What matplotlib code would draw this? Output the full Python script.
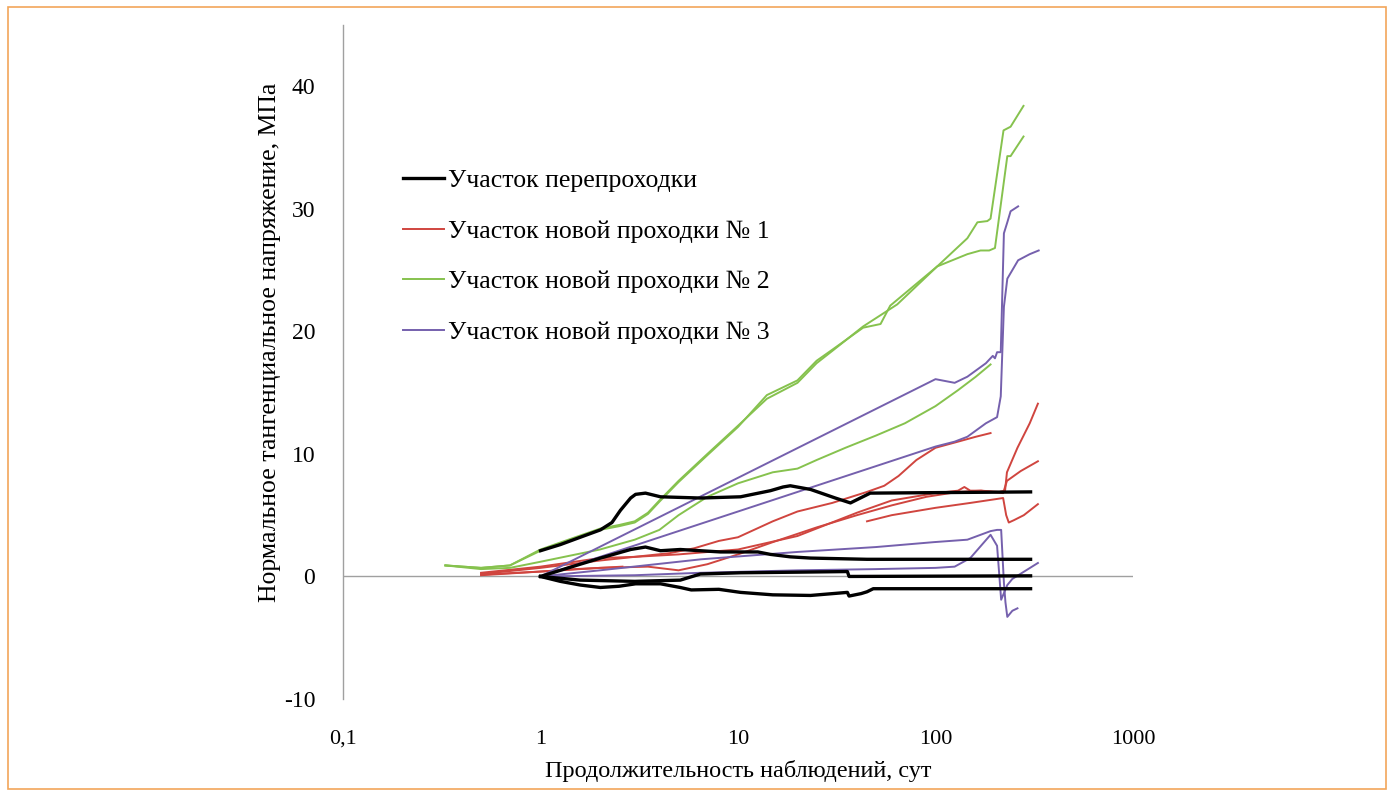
import matplotlib
matplotlib.use("Agg")
import matplotlib.pyplot as plt
from matplotlib.patches import Rectangle
from matplotlib.ticker import FixedLocator, FixedFormatter, NullLocator

plt.rcParams['font.family'] = ['Liberation Serif', 'DejaVu Serif']
plt.rcParams['axes.unicode_minus'] = False

# ---------------- data (days, MPa) ----------------
black1_x = [1, 1.26, 1.59, 2.01, 2.3, 2.54, 2.86, 3.03, 3.4, 4.05, 6.45, 10.3, 14.6, 16.9, 18.4, 23.3, 31.1, 37.1, 46.7, 303]
black1_y = [2.1, 2.6, 3.2, 3.8, 4.4, 5.4, 6.4, 6.7, 6.8, 6.5, 6.4, 6.5, 7.0, 7.3, 7.4, 7.1, 6.4, 6.0, 6.8, 6.9]
black2_x = [1, 1.26, 1.59, 2.01, 2.86, 3.4, 4.05, 5.1, 8.15, 12.6, 14.6, 18.4, 23.3, 45, 303]
black2_y = [0, 0.5, 1.0, 1.5, 2.2, 2.4, 2.1, 2.2, 2.0, 2.0, 1.8, 1.6, 1.5, 1.4, 1.4]
black3_x = [1, 1.59, 3.0, 5.1, 6.45, 10.3, 20, 35.8, 36.5, 303]
black3_y = [0, -0.3, -0.4, -0.3, 0.2, 0.3, 0.35, 0.4, 0.0, 0.05]
black4_x = [1, 1.26, 1.59, 2.01, 2.5, 3.03, 4.05, 5.1, 5.8, 8.0, 10.3, 15, 23.3, 35.8, 36.5, 42, 45, 48.4, 303]
black4_y = [0, -0.4, -0.7, -0.9, -0.8, -0.6, -0.6, -0.9, -1.1, -1.05, -1.3, -1.5, -1.55, -1.3, -1.6, -1.4, -1.25, -1.0, -1.0]

red1_x = [0.5, 1, 2, 3, 4.5, 6, 8, 10, 15, 20, 30, 45, 55, 65, 80, 100, 130, 160, 190]
red1_y = [0.2, 0.7, 1.3, 1.6, 1.9, 2.3, 2.9, 3.2, 4.5, 5.3, 6.0, 6.9, 7.4, 8.2, 9.5, 10.5, 11.0, 11.4, 11.7]
red2_x = [0.5, 1, 2, 3.5, 5, 7, 10, 15, 25, 40, 60, 90, 130, 170, 210, 225, 230, 260, 300, 330]
red2_y = [0.1, 0.4, 0.7, 0.8, 0.5, 1.0, 1.8, 2.8, 4.0, 5.0, 5.8, 6.5, 6.9, 7.0, 6.9, 7.0, 8.5, 10.5, 12.5, 14.1]
red3_x = [0.5, 1, 2, 3, 5, 10, 20, 40, 60, 100, 130, 140, 150, 170, 220, 230, 270, 330]
red3_y = [0.3, 0.8, 1.5, 1.6, 1.8, 2.2, 3.3, 5.2, 6.2, 6.8, 7.0, 7.3, 7.0, 7.0, 6.8, 7.8, 8.6, 9.4]
red4_x = [45, 60, 100, 150, 200, 220, 228, 235, 250, 280, 330]
red4_y = [4.5, 5.0, 5.6, 6.0, 6.3, 6.4, 5.0, 4.4, 4.6, 5.0, 5.9]
red5_x = [0.5, 1, 1.5, 2, 2.6]
red5_y = [0.15, 0.4, 0.6, 0.7, 0.8]

green1_x = [0.33, 0.5, 0.7, 1, 1.5, 2, 2.5, 3, 3.5, 4, 5, 7, 10, 14, 20, 25, 30, 43, 64, 102, 145, 163, 183, 190, 221, 240, 279]
green1_y = [0.9, 0.7, 0.9, 2.2, 3.2, 3.9, 4.2, 4.5, 5.2, 6.2, 7.8, 10.0, 12.3, 14.5, 15.8, 17.4, 18.4, 20.4, 22.2, 25.3, 27.6, 28.9, 29.0, 29.2, 36.4, 36.7, 38.4]
green2_x = [0.33, 0.5, 0.7, 1, 1.5, 2, 2.5, 3, 3.5, 4, 5, 7, 10, 14, 20, 25, 30, 43, 52.7, 59, 102, 145, 169, 187, 200, 231, 240, 279]
green2_y = [0.9, 0.7, 0.9, 2.1, 3.1, 3.8, 4.1, 4.4, 5.1, 6.1, 7.7, 9.9, 12.2, 14.8, 16.0, 17.6, 18.5, 20.3, 20.6, 22.1, 25.3, 26.3, 26.6, 26.6, 26.8, 34.3, 34.3, 35.9]
green3_x = [0.33, 0.5, 0.7, 1, 2, 3, 4, 5, 7, 10, 15, 20, 25, 35, 50, 70, 100, 130, 160, 190]
green3_y = [0.9, 0.6, 0.7, 1.2, 2.2, 3.0, 3.8, 5.0, 6.5, 7.6, 8.5, 8.8, 9.5, 10.5, 11.5, 12.5, 13.9, 15.2, 16.3, 17.3]

purple1_x = [1, 100, 125, 145, 180, 195, 200, 205, 214, 222, 231, 240, 262]
purple1_y = [0, 16.1, 15.8, 16.3, 17.4, 18.0, 17.8, 18.3, 18.3, 28.0, 28.9, 29.8, 30.2]
purple2_x = [1, 100, 125, 145, 180, 205, 214, 222, 231, 245, 262, 300, 333]
purple2_y = [0, 10.6, 11.0, 11.4, 12.5, 13.0, 14.7, 22.0, 24.3, 25.0, 25.8, 26.3, 26.6]
purple3_x = [1, 2, 6.5, 20, 50, 98, 145, 190, 205, 215, 222, 226, 231, 245, 260]
purple3_y = [0, 0.5, 1.4, 2.0, 2.4, 2.8, 3.0, 3.7, 3.8, 3.8, -0.5, -2.1, -3.3, -2.8, -2.6]
purple4_x = [1, 3, 6.5, 20, 50, 100, 125, 150, 190, 205, 215, 231, 245, 330]
purple4_y = [0, 0.1, 0.3, 0.5, 0.6, 0.7, 0.8, 1.5, 3.4, 2.5, -1.9, -0.7, -0.2, 1.1]

labels = ['Участок перепроходки', 'Участок новой проходки № 1',
          'Участок новой проходки № 2', 'Участок новой проходки № 3']
x_ticks = [0.1, 1, 10, 100, 1000]
x_tick_labels = ['0,1', '1', '10', '100', '1000']
y_ticks = [-10, 0, 10, 20, 30, 40]

BLACK = 'black'
RED = '#d0453f'
GREEN = '#86c24e'
PURPLE = '#7560ad'
LW_THIN = 1.4
LW_THICK = 2.4

fig = plt.figure(figsize=(13.94, 7.95), dpi=100)
ax = fig.add_axes([343 / 1394, 1 - 699 / 795, (1133 - 343) / 1394, (699 - 25) / 795])

ax.axhline(0, color='#a0a0a0', lw=1.0, zorder=1)

for xs, ys in [(red1_x, red1_y), (red2_x, red2_y), (red3_x, red3_y), (red4_x, red4_y), (red5_x, red5_y)]:
    ax.plot(xs, ys, color=RED, lw=LW_THIN, zorder=3)
for xs, ys in [(green1_x, green1_y), (green2_x, green2_y), (green3_x, green3_y)]:
    ax.plot(xs, ys, color=GREEN, lw=LW_THIN, zorder=3)
for xs, ys in [(purple1_x, purple1_y), (purple2_x, purple2_y), (purple3_x, purple3_y), (purple4_x, purple4_y)]:
    ax.plot(xs, ys, color=PURPLE, lw=LW_THIN, zorder=3)
for xs, ys in [(black1_x, black1_y), (black2_x, black2_y), (black3_x, black3_y), (black4_x, black4_y)]:
    ax.plot(xs, ys, color=BLACK, lw=LW_THICK, zorder=4)

ax.set_xscale('log')
ax.set_xlim(0.1, 1000)
ax.set_ylim(-10, 45)
ax.xaxis.set_major_locator(FixedLocator(x_ticks))
ax.xaxis.set_major_formatter(FixedFormatter(x_tick_labels))
ax.xaxis.set_minor_locator(NullLocator())
ax.set_yticks(y_ticks)

for side in ['top', 'right', 'bottom']:
    ax.spines[side].set_visible(False)
ax.spines['left'].set_color('#a0a0a0')
ax.spines['left'].set_linewidth(1.0)
ax.tick_params(axis='both', length=0)
ax.tick_params(axis='y', pad=20, labelsize=17)
ax.tick_params(axis='x', pad=22, labelsize=16)

ax.set_xlabel('Продолжительность наблюдений, сут', fontsize=17.5, labelpad=8)
fig.text(270 / 1394, 1 - 342 / 795, 'Нормальное тангенциальное напряжение, МПа',
         rotation=90, fontsize=18.5, ha='center', va='center')

# legend
handles = [plt.Line2D([], [], color=BLACK, lw=LW_THICK),
           plt.Line2D([], [], color=RED, lw=LW_THIN),
           plt.Line2D([], [], color=GREEN, lw=LW_THIN),
           plt.Line2D([], [], color=PURPLE, lw=LW_THIN)]
ax.legend(handles, labels, loc='upper left', bbox_to_anchor=(390 / 1394, 1 - 156 / 795),
          bbox_transform=fig.transFigure, frameon=False, fontsize=18.5,
          handlelength=1.6, handletextpad=0.15, labelspacing=1.08, borderpad=0)

# orange frame around the whole picture
fig.patches.append(Rectangle((8 / 1394, 6 / 795), 1378 / 1394, 782 / 795, transform=fig.transFigure,
                             fill=False, edgecolor='#f2a65a', lw=1.2))

fig.savefig('out.png', dpi=100)
